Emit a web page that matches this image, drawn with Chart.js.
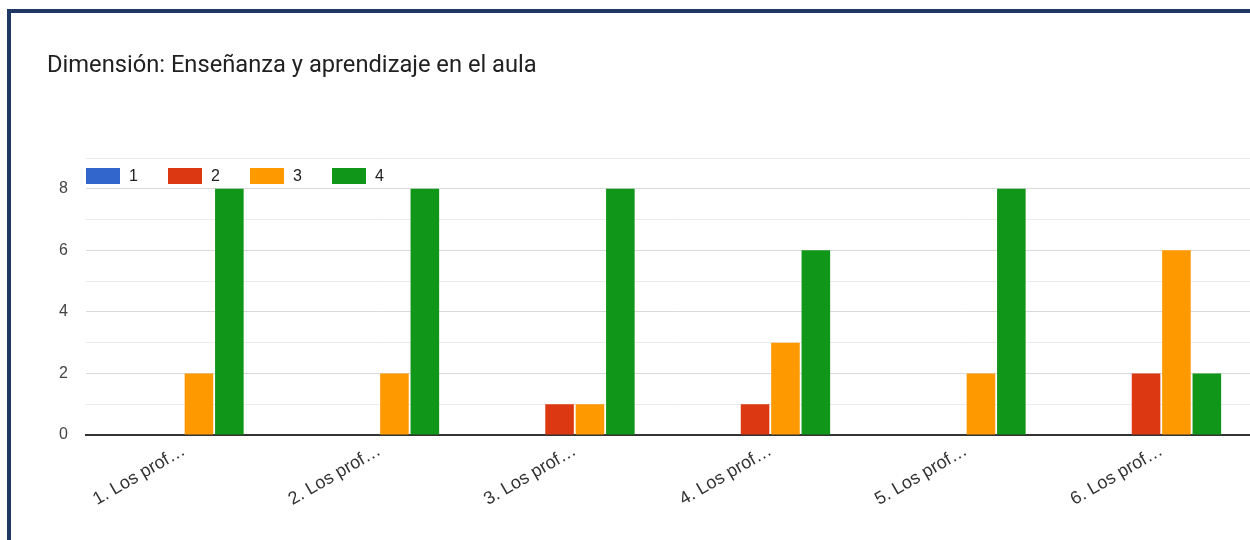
<!DOCTYPE html>
<html>
<head>
<meta charset="utf-8">
<script src="https://cdn.jsdelivr.net/npm/chart.js@4.4.1/dist/chart.umd.min.js"></script>
<style>
  html, body { margin:0; padding:0; background:#fff; overflow:hidden; width:1250px; height:540px; }
  #frame { position:absolute; left:7px; top:9px; width:1400px; height:700px; border-top:4px solid #1f3864; border-left:4px solid #1f3864; }
  #wrap { position:absolute; left:0; top:0; width:1259px; height:540px; }
</style>
</head>
<body>
<div id="frame"></div>
<div id="wrap"><canvas id="c"></canvas></div>
<script>
const titleText = 'Dimensión: Enseñanza y aprendizaje en el aula';
const categories = ['1. Los prof…', '2. Los prof…', '3. Los prof…', '4. Los prof…', '5. Los prof…', '6. Los prof…'];
const seriesNames = ['1', '2', '3', '4'];
const series1 = [0, 0, 0, 0, 0, 0];
const series2 = [0, 0, 1, 1, 0, 2];
const series3 = [2, 2, 1, 3, 2, 6];
const series4 = [8, 8, 8, 6, 8, 2];
const colors = ['#3366cc', '#dc3912', '#ff9900', '#109618'];
const yMax = 9;

const TITLE_FONT = 'Roboto, "Open Sans", sans-serif';
const FONT = '"Liberation Sans", Arial, sans-serif';

const overlay = {
  id: 'overlay',
  afterDraw(chart) {
    const ctx = chart.ctx;
    ctx.save();
    ctx.font = '23.7px ' + TITLE_FONT;
    ctx.fillStyle = '#212121';
    ctx.textBaseline = 'alphabetic';
    ctx.textAlign = 'left';
    ctx.fillText(titleText, 47, 72);
    chart.data.datasets.forEach((ds, i) => {
      const x = 86 + i * 82;
      ctx.fillStyle = ds.backgroundColor;
      ctx.fillRect(x, 168, 34, 16);
      ctx.fillStyle = '#222';
      ctx.font = '16px ' + FONT;
      ctx.textBaseline = 'middle';
      ctx.fillText(ds.label, x + 43, 177);
    });
    ctx.restore();
  }
};

const allSeries = [series1, series2, series3, series4];
new Chart(document.getElementById('c'), {
  type: 'bar',
  data: {
    labels: categories,
    datasets: allSeries.map((d, i) => ({
      label: seriesNames[i],
      data: d,
      backgroundColor: colors[i],
      borderWidth: 0,
      barPercentage: 0.94,
      categoryPercentage: 0.622
    }))
  },
  options: {
    responsive: true,
    maintainAspectRatio: false,
    animation: false,
    layout: { padding: { top: 158, left: 0, right: 0, bottom: 0 } },
    plugins: { legend: { display: false }, title: { display: false }, tooltip: { enabled: false } },
    scales: {
      x: {
        afterFit(s) { s.height = 105; },
        grid: { display: false },
        border: { display: true, color: '#333', width: 2 },
        ticks: {
          minRotation: 30, maxRotation: 30, autoSkip: false,
          padding: -3,
          color: '#333',
          font: { family: FONT, size: 18 }
        }
      },
      y: {
        min: 0, max: yMax,
        afterFit(s) { s.width = 86; },
        border: { display: false },
        grid: {
          drawTicks: false,
          lineWidth: 1,
          color: (c) => (c.tick && c.tick.value % 2 === 0) ? '#d9d9d9' : '#ebebeb'
        },
        ticks: {
          stepSize: 1,
          padding: 18,
          color: '#444',
          font: { family: FONT, size: 16 },
          callback: (v) => (v % 2 === 0 ? String(v) : '')
        }
      }
    }
  },
  plugins: [overlay]
});
</script>
</body>
</html>
